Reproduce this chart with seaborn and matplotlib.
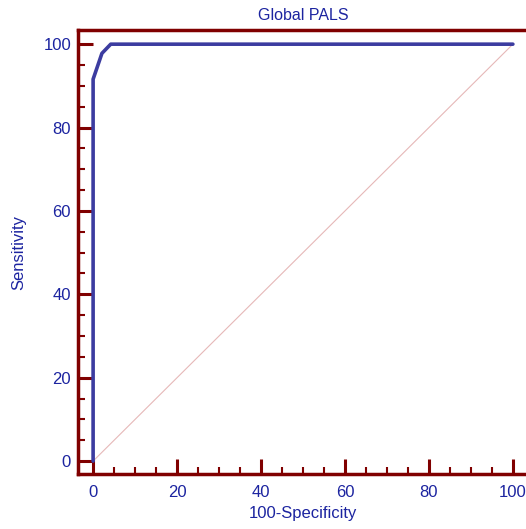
import pandas as pd
import seaborn as sns
import matplotlib.pyplot as plt
from matplotlib.ticker import MultipleLocator

# ROC curve points (100-Specificity, Sensitivity)
fpr = [0, 0, 2.1, 4.2, 100]
tpr = [0, 91.6, 97.8, 100, 100]
diag = [0, 100]

df = pd.DataFrame({'fpr': fpr, 'tpr': tpr})
ref = pd.DataFrame({'x': diag, 'y': diag})

maroon = '#800000'
blue = '#3c3ca0'
txt = '#1c24a0'

sns.set_style('white')
plt.rcParams['font.family'] = ['Liberation Sans', 'DejaVu Sans']

fig = plt.figure(figsize=(5.26, 5.29), dpi=100)
# axes box runs off the right edge like in the reference
ax = fig.add_axes([78 / 526, 1 - 474 / 529, 450 / 526, 444 / 529])

sns.lineplot(data=ref, x='x', y='y', color='#e6b8b8', linewidth=0.8, ax=ax)
sns.lineplot(data=df, x='fpr', y='tpr', color=blue, linewidth=2.6,
             sort=False, estimator=None, ax=ax)

ax.set_xlim(-3.6, 103.6)
ax.set_ylim(-3.1, 103.4)

for s in ax.spines.values():
    s.set_color(maroon)
    s.set_linewidth(2.5)
    s.set_visible(True)

ax.xaxis.set_major_locator(MultipleLocator(20))
ax.xaxis.set_minor_locator(MultipleLocator(5))
ax.yaxis.set_major_locator(MultipleLocator(20))
ax.yaxis.set_minor_locator(MultipleLocator(5))
ax.tick_params(axis='both', which='major', direction='in', length=11, width=2.2,
               color=maroon, labelcolor=txt, labelsize=12, pad=5,
               bottom=True, left=True, top=False, right=False)
ax.tick_params(axis='both', which='minor', direction='in', length=5, width=1.5,
               color=maroon, bottom=True, left=True, top=False, right=False)
ax.tick_params(axis='x', which='major', pad=8)

ax.set_title('Global PALS', color=txt, fontsize=11.5, pad=7)
ax.set_xlabel('100-Specificity', color=txt, fontsize=12, labelpad=4)
ax.set_ylabel('Sensitivity', color=txt, fontsize=12, labelpad=12)

plt.savefig('out.png', dpi=100)
